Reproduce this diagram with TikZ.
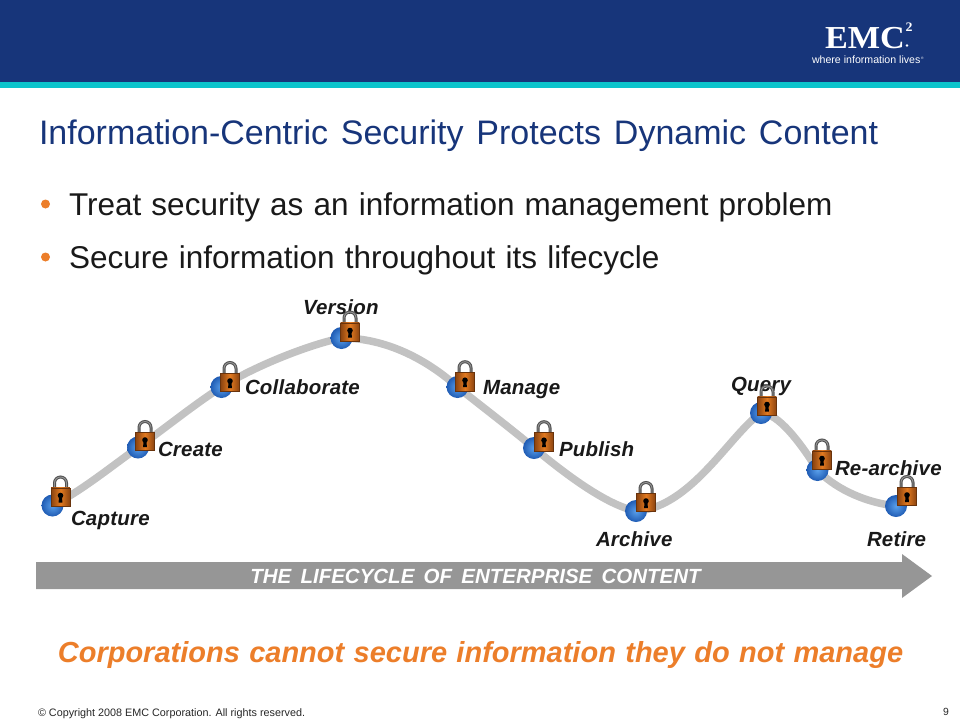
\documentclass[tikz,border=0pt]{standalone}
\usepackage{fontspec}
\setmainfont{Liberation Sans}
\newfontfamily\logofont[FakeStretch=1.07]{Liberation Serif}
\newfontfamily\labelfont[LetterSpace=1]{Liberation Sans}
\newfontfamily\bulletfont[WordSpace=1.33]{Liberation Sans}
\newfontfamily\punchfont[WordSpace=1.16]{Liberation Sans}
\usetikzlibrary{backgrounds}
\definecolor{navy}{RGB}{23,53,122}
\definecolor{teal}{RGB}{12,196,204}
\definecolor{emcorange}{RGB}{236,126,42}
\definecolor{band}{RGB}{150,150,150}
\definecolor{track}{RGB}{194,194,194}
\definecolor{lockA}{RGB}{226,122,32}
\definecolor{lockB}{RGB}{140,68,16}
\definecolor{ballin}{RGB}{90,160,235}
\definecolor{ballout}{RGB}{32,92,180}
\tikzset{
  x=1pt,y=-1pt,
  every node/.style={inner sep=0pt,outer sep=0pt},
  stage/.style={circle,minimum size=22pt,inner color=ballin,outer color=ballout},
  stagelabel/.style={font=\labelfont\fontsize{20.5}{22}\selectfont\bfseries\itshape,text=black!90,anchor=base west},
  bullettext/.style={font=\bulletfont\fontsize{31.5}{34}\selectfont,anchor=base west,text=black!90},
  bulletdot/.style={circle,fill=emcorange,minimum size=9pt},
  padlock/.pic={
    \draw[line width=3pt,draw=black!68] (-6,-8) -- (-6,-14) arc[start angle=180,end angle=360,radius=6] -- (6,-8);
    \draw[line width=.9pt,draw=black!42] (-6,-8) -- (-6,-14) arc[start angle=180,end angle=360,radius=6] -- (6,-8);
    \shade[left color=lockB,right color=lockB,middle color=lockA,draw=lockB!75!black,line width=.5pt] (-9.3,-9.2) rectangle (9.3,9.2);
    \fill[black] (0,-1.5) circle[radius=2.8];
    \fill[black] (-1.5,0) -- (1.5,0) -- (1.9,5.5) -- (-1.9,5.5) -- cycle;
  }
}
\begin{document}
\begin{tikzpicture}
\useasboundingbox (0,0) rectangle (960,720);
\fill[navy] (0,0) rectangle (960,82);
\fill[teal] (0,82) rectangle (960,88);
% logo
\node[anchor=base west,text=white,font=\logofont\bfseries\fontsize{32}{33}\selectfont] (logo) at (825,48) {EMC};
\fill[white] (907,45.5) circle[radius=1.4];
\node[anchor=base west,text=white,font=\logofont\bfseries\fontsize{13}{13}\selectfont] (logotwo) at (905.5,31) {2};
\node[anchor=base west,text=white,font=\fontsize{10.6}{12}\selectfont] (tagline) at (812,63) {where information lives};
\node[anchor=base west,text=white,font=\fontsize{3.5}{4}\selectfont] (reg) at (921,59) {®};
% title and bullets
\node[anchor=base west,text=navy,font=\fontsize{34}{36}\selectfont] (title) at (39,144) {\spaceskip=12.8pt\relax Information-Centric Security Protects Dynamic Content};
\node[bulletdot] (bulA) at (45.5,204) {};
\node[bullettext] (txtA) at (69,215) {Treat security as an information management problem};
\node[bulletdot] (bulB) at (45.5,257) {};
\node[bullettext] (txtB) at (69,268) {Secure information throughout its lifecycle};
% stages
\node[stage] (capture) at (52.5,505.5) {};
\node[stage] (create) at (138,447.5) {};
\node[stage] (collab) at (221.5,387) {};
\node[stage] (version) at (341.5,338) {};
\node[stage] (manage) at (457.5,387) {};
\node[stage] (publish) at (534,448) {};
\node[stage] (archive) at (636,511) {};
\node[stage] (query) at (761,413) {};
\node[stage] (rearch) at (817.5,470) {};
\node[stage] (retire) at (896,506) {};
\begin{scope}[on background layer]
\draw[track,line width=7.5pt] (capture.center)
  .. controls +(28,-14) and +(-28,20) .. (create.center)
  .. controls +(28,-20) and +(-28,18) .. (collab.center)
  .. controls +(35,-22) and +(-30,6) .. (version.center)
  .. controls +(45,0) and +(-30,-27) .. (manage.center)
  .. controls +(25,20) and +(-20,-17) .. (publish.center)
  .. controls +(30,25) and +(-30,-6) .. (archive.center)
  .. controls +(55,-3) and +(-30,20) .. (query.center)
  .. controls +(17,0) and +(-17.5,-28) .. (rearch.center)
  .. controls +(15,16) and +(-35,-4) .. (retire.center);
\end{scope}
% labels
\node[stagelabel] (lcapture) at (71,525.5) {Capture};
\node[stagelabel] (lcreate) at (158,456.5) {Create};
\node[stagelabel] (lcollab) at (245,394.5) {Collaborate};
\node[stagelabel] (lversion) at (303,314.5) {Version};
\node[stagelabel] (lmanage) at (483,394.5) {Manage};
\node[stagelabel] (lpublish) at (559,456.5) {Publish};
\node[stagelabel] (larchive) at (596,546.5) {Archive};
\node[stagelabel] (lquery) at (731,391) {Query};
\node[stagelabel] (lrearch) at (835,475.5) {Re-archive};
\node[stagelabel] (lretire) at (867,546.5) {Retire};
% locks
\pic at (60.5,497) {padlock};
\pic at (145,441.5) {padlock};
\pic at (230,382.5) {padlock};
\pic at (350,332) {padlock};
\pic at (465,381.7) {padlock};
\pic at (544,441.7) {padlock};
\pic at (646,502.5) {padlock};
\pic at (767,406) {padlock};
\pic at (822,460) {padlock};
\pic at (907,496.5) {padlock};
% lifecycle band
\fill[band] (36,562) -- (902,562) -- (902,554) -- (932,576) -- (902,598) -- (902,589) -- (36,589) -- cycle;
\node[anchor=base,text=white,font=\fontsize{20.5}{22}\selectfont\bfseries\itshape] (bandtext) at (475.5,583) {\spaceskip=9.25pt\relax THE LIFECYCLE OF ENTERPRISE CONTENT};
\node[anchor=base,text=emcorange,font=\punchfont\fontsize{29}{32}\selectfont\bfseries\itshape] (punch) at (480.5,662) {Corporations cannot secure information they do not manage};
% footer
\node[anchor=base west,text=black!85,font=\fontsize{10.8}{12}\selectfont] (copy) at (38,716) {© Copyright 2008 EMC Corporation. All rights reserved.};
\node[anchor=base,text=black!85,font=\fontsize{10.4}{12}\selectfont] (page) at (946,715) {9};
\end{tikzpicture}
\end{document}
